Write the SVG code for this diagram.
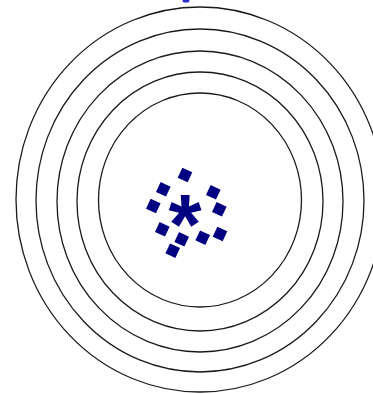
<svg xmlns="http://www.w3.org/2000/svg" width="373" height="394" viewBox="0 0 373 394">
<defs>
<style>
.ring{fill:none;stroke:#1a1a1a;stroke-width:1.3}
.sq{fill:#000080}
</style>
<rect id="s" x="-5.5" y="-5.5" width="11" height="11" class="sq"/>
</defs>
<rect width="373" height="394" fill="#fff"/>
<ellipse cx="186" cy="1" rx="3.5" ry="1.6" fill="#2a2ad0"/>
<g id="rings">
<ellipse class="ring" cx="200" cy="200" rx="101.5" ry="107"/>
<ellipse class="ring" cx="200" cy="201.5" rx="123" ry="129.5"/>
<ellipse class="ring" cx="200" cy="201.5" rx="143" ry="150.5"/>
<ellipse class="ring" cx="200" cy="200.5" rx="164" ry="171.5"/>
<ellipse class="ring" cx="200" cy="199.5" rx="184" ry="192.5"/>
</g>
<g id="cluster">
<use href="#s" transform="translate(185,175) rotate(25)"/>
<use href="#s" transform="translate(163.3,189.3) rotate(25)"/>
<use href="#s" transform="translate(153.3,206) rotate(25)"/>
<use href="#s" transform="translate(213.3,192.3) rotate(25)"/>
<use href="#s" transform="translate(219.3,209.3) rotate(25)"/>
<use href="#s" transform="translate(162.3,229.3) rotate(25)"/>
<use href="#s" transform="translate(181.7,239.3) rotate(25)"/>
<use href="#s" transform="translate(172.7,250.7) rotate(25)"/>
<use href="#s" transform="translate(202.7,237.7) rotate(25)"/>
<use href="#s" transform="translate(220,234) rotate(25)"/>
<text x="185" y="254" font-family="Liberation Sans, Arial, sans-serif" font-weight="bold" font-size="85" text-anchor="middle" fill="#000080">*</text>
</g>
</svg>
